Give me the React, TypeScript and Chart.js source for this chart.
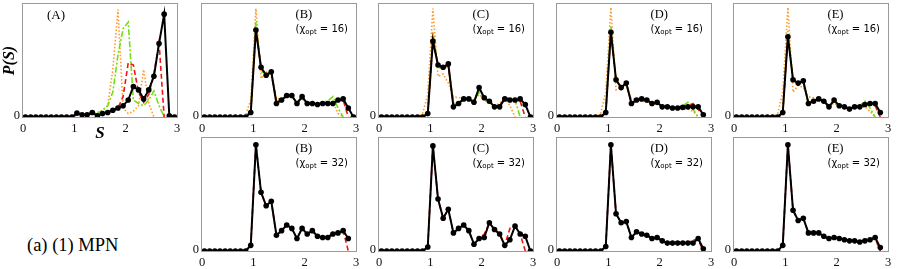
import React, { useEffect, useRef } from 'react';
import { Chart, registerables } from 'chart.js';

Chart.register(...registerables);

// ---------- data ----------
const S = [0.05, 0.15, 0.25, 0.35, 0.45, 0.55, 0.65, 0.75, 0.85, 0.95, 1.05, 1.15, 1.25, 1.35, 1.45, 1.55, 1.65, 1.75, 1.85, 1.95, 2.05, 2.15, 2.25, 2.35, 2.45, 2.55, 2.65, 2.75, 2.85, 2.95];
const X_TICKS = [0, 1, 2, 3];
const Y_TICKS = [0];

const A_BLACK = [0, 0, 0, 0, 0, 0, 0, 0, 0, 0, 0.035, 0.02, 0.02, 0.04, 0.01, 0.03, 0.04, 0.06, 0.08, 0.10, 0.15, 0.27, 0.24, 0.16, 0.24, 0.36, 0.65, 0.91, 0.01, 0.0];
const A_RED = [0, 0, 0, 0, 0, 0, 0, 0, 0, 0, 0.02, 0.01, 0.02, 0.03, 0.02, 0.03, 0.04, 0.05, 0.08, 0.18, 0.48, 0.46, 0.22, 0.13, 0.20, 0.38, 0.66, 0.0, null, null];
const A_GREEN = [0, 0, 0, 0, 0, 0, 0, 0, 0, 0, 0.02, 0.01, 0.02, 0.03, 0.03, 0.06, 0.10, 0.22, 0.55, 0.78, 0.84, 0.15, 0.12, 0.10, 0.15, 0.23, 0.10, 0.0, null, null];
const A_ORANGE = [0, 0, 0, 0, 0, 0, 0, 0, 0, 0.01, 0.03, 0.01, 0.02, 0.03, 0.04, 0.06, 0.10, 0.42, 0.95, 0.08, 0.03, 0.05, 0.10, 0.42, 0.12, 0.0, null, null, null, null];

const B16_BLACK = [0, 0, 0, 0, 0, 0, 0, 0, 0, 0.04, 0.77, 0.44, 0.37, 0.40, 0.12, 0.15, 0.19, 0.19, 0.12, 0.18, 0.12, 0.12, 0.11, 0.12, 0.12, 0.12, 0.15, 0.16, 0.08, 0.0];
const B16_RED = [0, 0, 0, 0, 0, 0, 0, 0, 0, 0.04, 0.80, 0.43, 0.37, 0.40, 0.13, 0.15, 0.19, 0.19, 0.12, 0.18, 0.12, 0.12, 0.11, 0.12, 0.12, 0.13, 0.15, 0.15, 0.0, null];
const B16_GREEN = [0, 0, 0, 0, 0, 0, 0, 0, 0, 0.06, 0.84, 0.40, 0.38, 0.39, 0.14, 0.15, 0.18, 0.18, 0.13, 0.17, 0.12, 0.12, 0.12, 0.13, 0.14, 0.18, 0.08, 0.0, null, null];
const B16_ORANGE = [0, 0, 0, 0, 0, 0, 0, 0, 0.02, 0.15, 0.96, 0.34, 0.40, 0.36, 0.16, 0.16, 0.18, 0.18, 0.13, 0.16, 0.13, 0.12, 0.12, 0.13, 0.13, 0.14, 0.03, 0.0, null, null];

const C16_BLACK = [0, 0, 0, 0, 0, 0, 0, 0, 0, 0.03, 0.67, 0.46, 0.44, 0.47, 0.09, 0.12, 0.16, 0.16, 0.13, 0.26, 0.17, 0.14, 0.09, 0.09, 0.16, 0.15, 0.15, 0.16, 0.11, 0.0];
const C16_RED = [0, 0, 0, 0, 0, 0, 0, 0, 0, 0.03, 0.70, 0.45, 0.44, 0.46, 0.10, 0.12, 0.16, 0.16, 0.13, 0.25, 0.17, 0.14, 0.10, 0.10, 0.17, 0.16, 0.15, 0.14, 0.0, null];
const C16_GREEN = [0, 0, 0, 0, 0, 0, 0, 0, 0, 0.05, 0.75, 0.44, 0.43, 0.45, 0.12, 0.13, 0.16, 0.16, 0.14, 0.22, 0.16, 0.14, 0.10, 0.10, 0.16, 0.16, 0.15, 0.0, null, null];
const C16_ORANGE = [0, 0, 0, 0, 0, 0, 0, 0, 0.03, 0.20, 0.96, 0.36, 0.38, 0.30, 0.18, 0.17, 0.17, 0.17, 0.15, 0.20, 0.15, 0.12, 0.10, 0.12, 0.17, 0.10, 0.0, null, null, null];

const D16_BLACK = [0, 0, 0, 0, 0, 0, 0, 0, 0, 0.04, 0.75, 0.33, 0.26, 0.30, 0.12, 0.15, 0.16, 0.15, 0.12, 0.13, 0.09, 0.09, 0.08, 0.08, 0.085, 0.09, 0.09, 0.09, 0.02, null];
const D16_RED = [0, 0, 0, 0, 0, 0, 0, 0, 0, 0.04, 0.77, 0.32, 0.27, 0.30, 0.12, 0.15, 0.16, 0.15, 0.12, 0.13, 0.09, 0.09, 0.08, 0.08, 0.09, 0.10, 0.12, 0.07, 0.0, null];
const D16_GREEN = [0, 0, 0, 0, 0, 0, 0, 0, 0, 0.05, 0.80, 0.31, 0.27, 0.29, 0.13, 0.15, 0.16, 0.15, 0.12, 0.12, 0.09, 0.09, 0.08, 0.09, 0.10, 0.13, 0.07, 0.0, null, null];
const D16_ORANGE = [0, 0, 0, 0, 0, 0, 0, 0, 0.03, 0.22, 0.97, 0.24, 0.26, 0.28, 0.16, 0.15, 0.14, 0.13, 0.12, 0.11, 0.10, 0.09, 0.08, 0.08, 0.07, 0.07, 0.05, 0.0, null, null];

const E16_BLACK = [0, 0, 0, 0, 0, 0, 0, 0, 0, 0.04, 0.71, 0.33, 0.30, 0.32, 0.12, 0.14, 0.16, 0.14, 0.09, 0.15, 0.10, 0.09, 0.07, 0.09, 0.09, 0.11, 0.12, 0.12, 0.04, null];
const E16_RED = [0, 0, 0, 0, 0, 0, 0, 0, 0, 0.04, 0.73, 0.33, 0.30, 0.31, 0.12, 0.14, 0.16, 0.14, 0.10, 0.14, 0.10, 0.09, 0.08, 0.09, 0.09, 0.11, 0.12, 0.10, 0.0, null];
const E16_GREEN = [0, 0, 0, 0, 0, 0, 0, 0, 0, 0.05, 0.76, 0.32, 0.30, 0.30, 0.13, 0.14, 0.15, 0.14, 0.10, 0.13, 0.10, 0.09, 0.08, 0.09, 0.10, 0.14, 0.08, 0.0, null, null];
const E16_ORANGE = [0, 0, 0, 0, 0, 0, 0, 0, 0.03, 0.22, 0.97, 0.22, 0.28, 0.26, 0.18, 0.17, 0.15, 0.13, 0.11, 0.12, 0.10, 0.09, 0.08, 0.08, 0.08, 0.09, 0.05, 0.0, null, null];

const B32_BLACK = [0, 0, 0, 0, 0, 0, 0, 0, 0, 0.05, 0.94, 0.52, 0.40, 0.44, 0.14, 0.18, 0.23, 0.20, 0.11, 0.20, 0.15, 0.18, 0.13, 0.12, 0.12, 0.15, 0.16, 0.18, 0.11, null];
const B32_RED = [0, 0, 0, 0, 0, 0, 0, 0, 0, 0.05, 0.94, 0.52, 0.40, 0.44, 0.14, 0.18, 0.23, 0.20, 0.11, 0.20, 0.15, 0.18, 0.13, 0.12, 0.13, 0.15, 0.16, 0.18, 0.0, null];
const C32_BLACK = [0, 0, 0, 0, 0, 0, 0, 0, 0, 0.035, 0.93, 0.46, 0.29, 0.37, 0.16, 0.20, 0.23, 0.18, 0.06, 0.11, 0.12, 0.25, 0.19, 0.15, 0.05, 0.10, 0.22, 0.15, 0.13, 0.0];
const C32_RED = [0, 0, 0, 0, 0, 0, 0, 0, 0, 0.035, 0.93, 0.46, 0.29, 0.37, 0.16, 0.20, 0.23, 0.18, 0.06, 0.11, 0.15, 0.25, 0.19, 0.15, 0.05, 0.20, 0.22, 0.15, 0.0, null];
const D32_BLACK = [0, 0, 0, 0, 0, 0, 0, 0, 0, 0.04, 0.94, 0.33, 0.25, 0.26, 0.12, 0.17, 0.15, 0.14, 0.11, 0.12, 0.09, 0.07, 0.07, 0.07, 0.07, 0.07, 0.07, 0.11, 0.02, null];
const D32_RED = [0, 0, 0, 0, 0, 0, 0, 0, 0, 0.04, 0.94, 0.33, 0.25, 0.26, 0.12, 0.17, 0.15, 0.14, 0.11, 0.12, 0.09, 0.07, 0.07, 0.07, 0.07, 0.07, 0.10, 0.10, 0.0, null];
const E32_BLACK = [0, 0, 0, 0, 0, 0, 0, 0, 0, 0.05, 0.94, 0.36, 0.27, 0.29, 0.16, 0.16, 0.16, 0.13, 0.11, 0.12, 0.11, 0.10, 0.09, 0.09, 0.08, 0.09, 0.10, 0.12, 0.03, null];
const E32_RED = [0, 0, 0, 0, 0, 0, 0, 0, 0, 0.05, 0.94, 0.36, 0.27, 0.29, 0.16, 0.16, 0.16, 0.13, 0.11, 0.12, 0.11, 0.10, 0.09, 0.09, 0.08, 0.10, 0.11, 0.11, 0.0, null];

// ---------- panel layout ----------
type Series = (number | null)[];
type PanelDef = {
  key: string;
  label: string;
  chi?: string;
  left: number;
  top: number;
  black: Series;
  red?: Series;
  green?: Series;
  orange?: Series;
  isA?: boolean;
};

const ROW1 = 4;
const ROW2 = 138;
const PW = 154;
const PH = 113;

const PANELS: PanelDef[] = [
  { key: 'A', label: '(A)', left: 23, top: ROW1, black: A_BLACK, red: A_RED, green: A_GREEN, orange: A_ORANGE, isA: true },
  { key: 'B16', label: '(B)', chi: '16', left: 202, top: ROW1, black: B16_BLACK, red: B16_RED, green: B16_GREEN, orange: B16_ORANGE },
  { key: 'C16', label: '(C)', chi: '16', left: 379, top: ROW1, black: C16_BLACK, red: C16_RED, green: C16_GREEN, orange: C16_ORANGE },
  { key: 'D16', label: '(D)', chi: '16', left: 557, top: ROW1, black: D16_BLACK, red: D16_RED, green: D16_GREEN, orange: D16_ORANGE },
  { key: 'E16', label: '(E)', chi: '16', left: 734, top: ROW1, black: E16_BLACK, red: E16_RED, green: E16_GREEN, orange: E16_ORANGE },
  { key: 'B32', label: '(B)', chi: '32', left: 202, top: ROW2, black: B32_BLACK, red: B32_RED },
  { key: 'C32', label: '(C)', chi: '32', left: 379, top: ROW2, black: C32_BLACK, red: C32_RED },
  { key: 'D32', label: '(D)', chi: '32', left: 557, top: ROW2, black: D32_BLACK, red: D32_RED },
  { key: 'E32', label: '(E)', chi: '32', left: 734, top: ROW2, black: E32_BLACK, red: E32_RED },
];

const SERIF = "'Liberation Serif', 'Times New Roman', serif";
const SANS = "'DejaVu Sans', sans-serif";

const toPts = (ys: Series) => S.map((x, i) => ({ x, y: ys[i] }));

function PanelChart({ p }: { p: PanelDef }) {
  const ref = useRef<HTMLCanvasElement>(null);
  const yw = p.isA ? 23 : 24;
  const pt = 4;
  const pr = 12;
  const xh = p.isA ? 27 : 22;
  const w = yw + PW + pr;
  const h = pt + PH + xh;

  useEffect(() => {
    if (!ref.current) return;
    const datasets: any[] = [
      {
        label: 'black',
        data: toPts(p.black),
        borderColor: '#000',
        backgroundColor: '#000',
        borderWidth: 2,
        pointRadius: 2.8,
        pointBackgroundColor: '#000',
        pointBorderColor: '#000',
        pointBorderWidth: 0,
      },
    ];
    if (p.red) {
      datasets.push({
        label: 'red',
        data: toPts(p.red),
        borderColor: '#f01414',
        borderWidth: 1.6,
        borderDash: [5, 3],
        pointRadius: 0,
      });
    }
    if (p.green) {
      datasets.push({
        label: 'green',
        data: toPts(p.green),
        borderColor: '#77dd11',
        borderWidth: 1.6,
        borderDash: [6, 2, 2, 2],
        pointRadius: 0,
      });
    }
    if (p.orange) {
      datasets.push({
        label: 'orange',
        data: toPts(p.orange),
        borderColor: '#ff9a2a',
        borderWidth: 1.6,
        borderDash: [1.5, 2],
        pointRadius: 0,
      });
    }

    const framePlugin = {
      id: 'frame' + p.key,
      beforeDatasetsDraw(chart: any) {
        const { ctx, chartArea: a } = chart;
        ctx.save();
        ctx.strokeStyle = '#9a9a9a';
        ctx.lineWidth = 1;
        ctx.strokeRect(Math.round(a.left) - 0.5, Math.round(a.top) - 0.5, Math.round(a.right - a.left) + 1, Math.round(a.bottom - a.top) + 1);
        ctx.restore();
      },
    };

    const labelPlugin = {
      id: 'labels' + p.key,
      afterDraw(chart: any) {
        const { ctx, chartArea: a } = chart;
        ctx.save();
        ctx.fillStyle = '#000';
        ctx.textBaseline = 'alphabetic';
        ctx.textAlign = 'left';
        if (p.isA) {
          ctx.font = `13px ${SERIF}`;
          ctx.fillText(p.label, a.left + 24, a.top + 14.5);
        } else {
          ctx.font = `12.5px ${SERIF}`;
          ctx.fillText(p.label, a.left + 93.5, a.top + 13.5);
        }
        if (p.chi) {
          let x = a.left + 93.5;
          const y = a.top + 27.5;
          ctx.font = `10px ${SANS}`;
          ctx.fillText('(χ', x, y);
          x += ctx.measureText('(χ').width;
          ctx.font = `7px ${SANS}`;
          ctx.fillText('opt', x, y + 2.5);
          x += ctx.measureText('opt').width;
          ctx.font = `10px ${SANS}`;
          ctx.fillText(` = ${p.chi})`, x, y);
        }
        ctx.restore();
      },
    };

    const chart = new Chart(ref.current, {
      type: 'line',
      data: { datasets },
      options: {
        animation: false,
        responsive: false,
        devicePixelRatio: 1,
        events: [],
        layout: { padding: { top: pt, right: pr, left: 0, bottom: 0 } },
        plugins: { legend: { display: false }, tooltip: { enabled: false } },
        elements: { line: { tension: 0, borderCapStyle: 'butt' } },
        scales: {
          x: {
            type: 'linear',
            min: 0,
            max: 3,
            grid: { display: false, drawTicks: false },
            border: { display: false },
            afterBuildTicks: (s: any) => {
              s.ticks = X_TICKS.map((v) => ({ value: v }));
            },
            afterFit: (s: any) => {
              s.height = xh;
              s.paddingLeft = 0;
              s.paddingRight = 0;
              s.paddingTop = 0;
              s.paddingBottom = 0;
            },
            ticks: {
              padding: 4,
              maxRotation: 0,
              autoSkip: false,
              color: '#111',
              font: { family: SERIF, size: 12.5 },
              callback: (v: any) => String(v),
            },
            title: p.isA
              ? {
                  display: true,
                  text: 'S',
                  color: '#000',
                  font: { family: SERIF, size: 17, style: 'italic', weight: 'bold' },
                  padding: { top: 0, bottom: 0 },
                }
              : { display: false },
          },
          y: {
            type: 'linear',
            min: 0,
            max: 1,
            grid: { display: false, drawTicks: false },
            border: { display: false },
            afterBuildTicks: (s: any) => {
              s.ticks = Y_TICKS.map((v) => ({ value: v }));
            },
            afterFit: (s: any) => {
              s.width = yw;
              s.paddingLeft = 0;
              s.paddingRight = 0;
              s.paddingTop = 0;
              s.paddingBottom = 0;
            },
            ticks: {
              padding: 3,
              labelOffset: -1,
              color: '#111',
              font: { family: SERIF, size: 12.5 },
              callback: (v: any) => String(v),
            },
            title: p.isA
              ? {
                  display: true,
                  text: 'P(S)',
                  color: '#000',
                  font: { family: SERIF, size: 16, style: 'italic', weight: 'bold' },
                  padding: { top: 0, bottom: 0 },
                }
              : { display: false },
          },
        },
      } as any,
      plugins: [framePlugin, labelPlugin],
    });
    return () => chart.destroy();
  }, []);

  return (
    <canvas
      ref={ref}
      width={w}
      height={h}
      style={{ position: 'absolute', left: p.left - yw, top: p.top - pt, width: w, height: h }}
    />
  );
}

export default function App() {
  return (
    <div style={{ position: 'absolute', left: 0, top: 0, width: 899, height: 269, background: '#fff', overflow: 'hidden' }}>
      {PANELS.map((p) => (
        <PanelChart key={p.key} p={p} />
      ))}
      <div
        style={{
          position: 'absolute',
          left: 27,
          top: 236,
          fontFamily: SERIF,
          fontSize: '18.5px',
          lineHeight: '1',
          color: '#000',
          whiteSpace: 'nowrap',
        }}
      >
        (a) (1) MPN
      </div>
    </div>
  );
}
